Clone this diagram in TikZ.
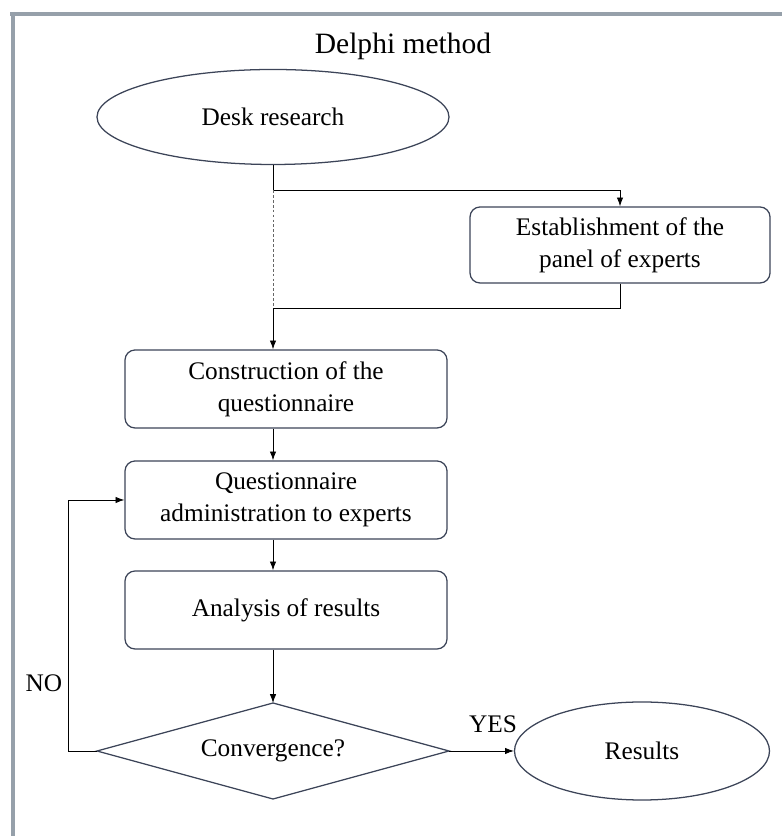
\documentclass[tikz,border=0pt]{standalone}
\usepackage{fontspec}
\setmainfont{Liberation Serif}
\usepackage{tikz}
\usetikzlibrary{shapes.geometric}
\usetikzlibrary{arrows.meta}
\definecolor{framegray}{RGB}{150,160,170}
\definecolor{boxline}{RGB}{60,68,88}
\tikzset{
  stepbox/.style={rectangle,rounded corners=0.25cm,draw=boxline,line width=0.9pt,align=center,
    minimum width=8.05cm,minimum height=1.95cm,font=\fontsize{18}{23}\selectfont},
  roundbox/.style={ellipse,draw=boxline,line width=0.9pt,inner sep=0pt,font=\fontsize{18}{23}\selectfont},
  flow/.style={-{Latex[length=2.2mm,width=1.6mm]},black,line width=0.6pt},
  plain/.style={font=\fontsize{18}{23}\selectfont}
}

\begin{document}
\begin{tikzpicture}
\useasboundingbox (0,0) rectangle (19.55,20.9);
\draw[framegray,line width=0.1cm] (0.25,20.55) -- (19.55,20.55);
\draw[framegray,line width=0.1cm] (0.3125,20.6) -- (0.3125,0);

\node[font=\fontsize{21}{24}\selectfont] (title) at (10.075,19.75) {Delphi method};
\node[roundbox,minimum width=8.8cm,minimum height=2.375cm] (desk) at (6.825,17.975) {Desk research};
\node[stepbox,minimum width=7.5cm,minimum height=1.9cm] (panel) at (15.5,14.775) {Establishment of the\\panel of experts};
\node[stepbox] (build) at (7.15,11.175) {Construction of the\\questionnaire};
\node[stepbox] (admin) at (7.15,8.4) {Questionnaire\\administration to experts};
\node[stepbox] (analysis) at (7.15,5.65) {Analysis of results};
\node[diamond,aspect=3.6,draw=boxline,line width=0.9pt,inner sep=0pt,outer sep=0pt,plain,
  minimum width=8.8cm,minimum height=2.4cm] (conv) at (6.825,2.125) {Convergence?};
\node[roundbox,minimum width=6.375cm,minimum height=2.45cm] (res) at (16.05,2.125) {Results};

\coordinate (split) at (6.825,16.15);
\coordinate (merge) at (6.825,13.2);
\coordinate (noturn) at (1.7,2.125);

\draw[black,line width=0.6pt] (desk.south) -- (split);
\draw[flow] (split) -| (panel.north);
\draw[black!60,line width=0.6pt,dash pattern=on 2pt off 1.5pt] (split) -- (merge);
\draw[flow] (panel.south) |- (merge) -- (merge |- build.north);
\draw[flow] (merge |- build.south) -- (merge |- admin.north);
\draw[flow] (merge |- admin.south) -- (merge |- analysis.north);
\draw[flow] (merge |- analysis.south) -- (conv.north);
\draw[flow] (conv.west) -- (noturn) |- (admin.west);
\draw[flow] (conv.east) -- (res.west);

\node[plain] (no) at (1.1,3.825) {NO};
\node[plain] (yes) at (12.325,2.8) {YES};
\end{tikzpicture}
\end{document}
